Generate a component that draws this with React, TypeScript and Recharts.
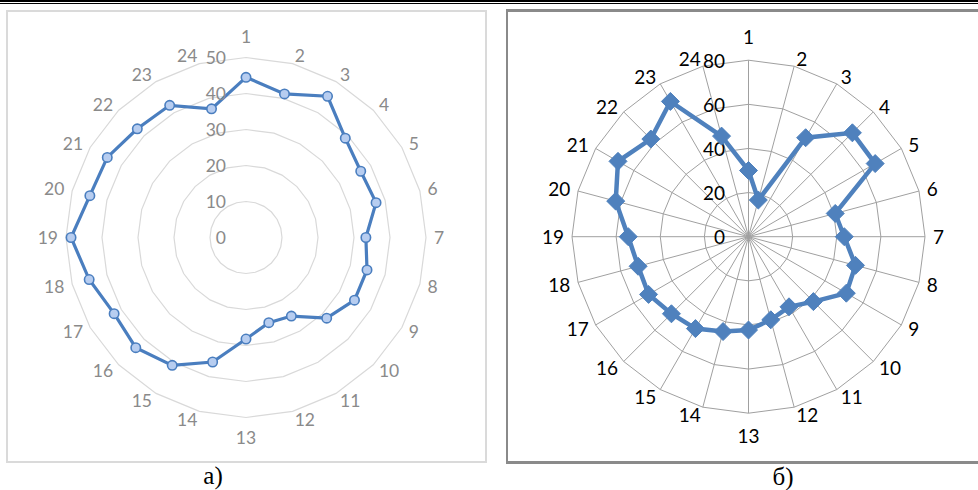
import React from 'react';
import { RadarChart, Radar, PolarGrid, PolarAngleAxis, PolarRadiusAxis } from 'recharts';

const categories = ['1','2','3','4','5','6','7','8','9','10','11','12','13','14','15','16','17','18','19','20','21','22','23','24'];
const seriesA = [44.5, 41.3, 45.3, 39, 36.8, 37.4, 33.3, 34.8, 34.8, 31.7, 25.2, 24.5, 28.2, 35.8, 41, 43.3, 42.3, 45.1, 48.6, 44.9, 44.5, 42.7, 42.4, 37];
const seriesB = [30, 17.2, 51.8, 66.6, 66.3, 40.7, 43.4, 50.2, 51.2, 41.6, 36.7, 39, 42.3, 44.5, 48.1, 49.4, 52.3, 51.8, 54.5, 62.3, 68.3, 62.6, 70.8, 47.2];
const domainA = [0, 50];
const domainB = [0, 80];
const captionA = 'а)';
const captionB = 'б)';

const dataA = categories.map((c, i) => ({ cat: c, v: seriesA[i] }));
const dataB = categories.map((c, i) => ({ cat: c, v: seriesB[i] }));

const FONT = 'Lato, "Open Sans", sans-serif';

function makeAngleTick(fontSize: number, color: string, topOff: number, botOff: number) {
  return (props: any) => {
    const { x, y, payload } = props;
    const a = (payload.coordinate * Math.PI) / 180;
    const c = Math.cos(a);
    const s = Math.sin(a);
    let anchor: 'start' | 'middle' | 'end' = 'middle';
    let ty = y;
    if (Math.abs(c) < 0.05) {
      anchor = 'middle';
      ty = s > 0 ? y - topOff : y + botOff;
    } else {
      anchor = c > 0 ? 'start' : 'end';
    }
    return (
      <text x={x} y={ty} textAnchor={anchor} dominantBaseline="central" fill={color} fontSize={fontSize} fontFamily={FONT}>
        {payload.value}
      </text>
    );
  };
}

function makeRadiusTick(fontSize: number, color: string, off: number) {
  return (props: any) => {
    const { x, y, payload } = props;
    return (
      <text x={x - off} y={y} textAnchor="end" dominantBaseline="central" fill={color} fontSize={fontSize} fontFamily={FONT}>
        {payload.value}
      </text>
    );
  };
}

const circleDot = (props: any) => {
  const { cx, cy, index } = props;
  return <circle key={'d' + index} cx={cx} cy={cy} r={4.7} fill="#b7cdf0" stroke="#4a7ebf" strokeWidth={1.6} />;
};

const diamondDot = (props: any) => {
  const { cx, cy, index } = props;
  const h = 9;
  return (
    <polygon
      key={'d' + index}
      points={`${cx},${cy - h} ${cx + h},${cy} ${cx},${cy + h} ${cx - h},${cy}`}
      fill="#4f81bd"
      stroke="#4f81bd"
      strokeWidth={1}
    />
  );
};

export default function App() {
  return (
    <div style={{ position: 'absolute', left: 0, top: 0, width: 978, height: 490, background: '#fff', overflow: 'hidden' }}>
      <div style={{ position: 'absolute', left: 0, top: 0, width: 978, height: 2, background: '#000' }} />
      <div style={{ position: 'absolute', left: 0, top: 3, width: 978, height: 1, background: '#000' }} />
      <div style={{ position: 'absolute', left: 6, top: 10, width: 481, height: 453, border: '2px solid #dadada', boxSizing: 'border-box' }} />
      <div style={{ position: 'absolute', left: 506, top: 9, width: 490, height: 455, border: '3px solid #8a8a8a', borderLeftWidth: 2.5, boxSizing: 'border-box' }} />

      <div style={{ position: 'absolute', left: 0, top: 0 }}>
        <RadarChart width={490} height={470} data={dataA} cx={246} cy={237.5} outerRadius={180} margin={{ top: 0, right: 0, bottom: 0, left: 0 }}>
          <PolarGrid gridType="polygon" radialLines={false} stroke="#d9d9d9" strokeWidth={1.2} />
          <PolarAngleAxis dataKey="cat" axisLine={false} tickLine={false} tick={makeAngleTick(17.5, '#8a8a8a', 13, 12)} />
          <PolarRadiusAxis angle={90} domain={domainA} tickCount={6} axisLine={false} tickLine={false} tick={makeRadiusTick(17.5, '#8a8a8a', 20)} />
          <Radar dataKey="v" stroke="#4a7ebf" strokeWidth={3.2} fill="none" fillOpacity={0} dot={circleDot} isAnimationActive={false} />
        </RadarChart>
      </div>

      <div style={{ position: 'absolute', left: 490, top: 0 }}>
        <RadarChart width={488} height={470} data={dataB} cx={258.5} cy={236.7} outerRadius={176.5} margin={{ top: 0, right: 0, bottom: 0, left: 0 }}>
          <PolarGrid gridType="polygon" radialLines={true} stroke="#a0a0a0" strokeWidth={1} />
          <PolarAngleAxis dataKey="cat" axisLine={false} tickLine={false} tick={makeAngleTick(19, '#000', 15.5, 14)} />
          <PolarRadiusAxis angle={90} domain={domainB} tickCount={5} axisLine={false} tickLine={false} tick={makeRadiusTick(19, '#000', 23.5)} />
          <Radar dataKey="v" stroke="#4f81bd" strokeWidth={4.5} fill="none" fillOpacity={0} dot={diamondDot} isAnimationActive={false} />
        </RadarChart>
      </div>

      <div style={{ position: 'absolute', left: 213, top: 476, transform: 'translate(-50%, -50%)', fontFamily: '"Liberation Serif", "Times New Roman", serif', fontSize: 25, color: '#000', whiteSpace: 'nowrap' }}>
        {captionA}
      </div>
      <div style={{ position: 'absolute', left: 783, top: 477, transform: 'translate(-50%, -50%)', fontFamily: '"Liberation Serif", "Times New Roman", serif', fontSize: 25, color: '#000', whiteSpace: 'nowrap' }}>
        {captionB}
      </div>
    </div>
  );
}
